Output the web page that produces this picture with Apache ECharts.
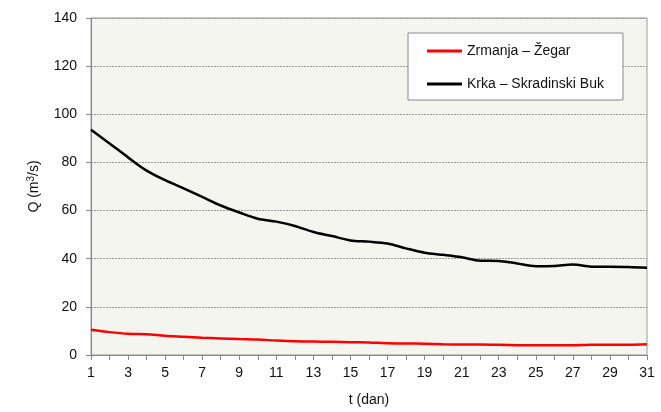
<!DOCTYPE html>
<html><head><meta charset="utf-8">
<script src="https://cdn.jsdelivr.net/npm/echarts@6/dist/echarts.min.js"></script>
<style>html,body{margin:0;padding:0;background:#fff}#c{width:661px;height:412px}</style>
</head><body><div id="c"></div>
<script>
const days = Array.from({length:31},(_,i)=>String(i+1));
const zrmanja = [10.5,9.5,8.8,8.6,8.0,7.6,7.2,6.9,6.6,6.4,6.0,5.7,5.6,5.5,5.3,5.2,4.9,4.8,4.7,4.5,4.4,4.4,4.3,4.1,4.0,4.1,4.1,4.3,4.3,4.3,4.5];
const krka = [93.6,87.9,82.1,76.6,72.6,69.2,65.7,62.1,59.2,56.6,55.4,53.6,51.1,49.4,47.6,47.1,46.3,44.3,42.5,41.6,40.6,39.2,39.1,38.0,36.9,37.0,37.6,36.7,36.7,36.6,36.2];
const seriesNames = ['Zrmanja – Žegar','Krka – Skradinski Buk'];
const chart = echarts.init(document.getElementById('c'));
const font = 'Liberation Sans, Arial, sans-serif';
chart.setOption({
  animation:false,
  textStyle:{fontFamily:font},
  grid:{left:91,top:18,width:556,height:338,show:true,backgroundColor:'#f3f5ee',borderColor:'#999',borderWidth:1},
  legend:{
    orient:'vertical',left:408,top:33,
    backgroundColor:'#fff',borderColor:'#888',borderWidth:1,
    padding:[11,19,9,19],itemGap:19,itemWidth:35,itemHeight:3,icon:'rect',
    textStyle:{fontSize:14,lineHeight:14,color:'#111',fontFamily:font},
    data:seriesNames
  },
  xAxis:{
    type:'category',data:days,boundaryGap:false,
    name:'t (dan)',nameLocation:'middle',nameGap:38,
    nameTextStyle:{fontSize:14,color:'#111'},
    axisLine:{lineStyle:{color:'#888'}},
    axisTick:{show:true,interval:0,length:5,lineStyle:{color:'#888'}},
    axisLabel:{interval:1,fontSize:14,color:'#111',margin:11},
    splitLine:{show:false}
  },
  yAxis:{
    type:'value',min:0,max:140,interval:20,
    name:'{a|Q (m}{s|3}{a|/s)}',nameLocation:'middle',nameGap:49,
    nameTextStyle:{rich:{a:{fontSize:14,color:'#111',fontFamily:font},s:{fontSize:10,color:'#111',fontFamily:font,verticalAlign:'top',padding:[0,0,6,0]}}},
    axisLine:{show:true,lineStyle:{color:'#888'}},
    axisTick:{show:true,length:5,lineStyle:{color:'#888'}},
    axisLabel:{fontSize:14,color:'#111',margin:14},
    splitLine:{lineStyle:{color:'#999',type:[2,1],width:1}}
  },
  series:[
    {name:seriesNames[0],type:'line',data:zrmanja,smooth:0.3,symbol:'none',lineStyle:{color:'#ff0000',width:2.5},itemStyle:{color:'#ff0000'}},
    {name:seriesNames[1],type:'line',data:krka,smooth:0.3,symbol:'none',lineStyle:{color:'#000',width:2.5},itemStyle:{color:'#000'}}
  ]
});
</script></body></html>
